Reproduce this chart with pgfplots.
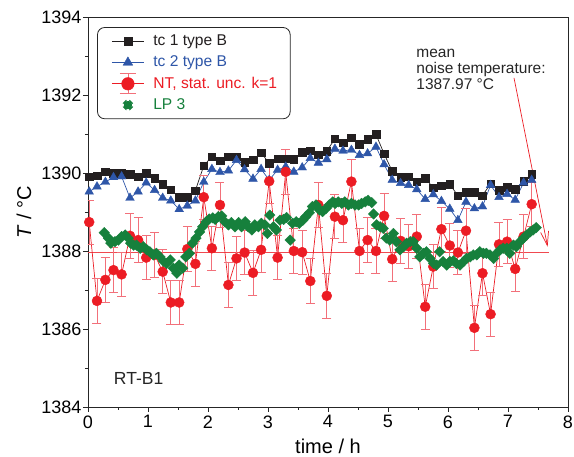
\documentclass[border=0pt]{standalone}
\usepackage{pgfplots}
\pgfplotsset{compat=1.18}
\usepackage{pgfplotstable}
\usepackage{fontspec}
\setmainfont{Liberation Sans}
\usetikzlibrary{arrows.meta}
\definecolor{tcblack}{HTML}{231F20}
\definecolor{tcblue}{HTML}{2E56A8}
\definecolor{ntred}{HTML}{EC1C24}
\definecolor{errred}{HTML}{F2707A}
\definecolor{lpgreen}{HTML}{16803C}
\newcommand{\legfont}{\fontsize{15.6}{18}\selectfont}
\pgfdeclareplotmark{sqdiamond}{%
  \pgfpathmoveto{\pgfqpoint{0pt}{1.4\pgfplotmarksize}}%
  \pgfpathlineto{\pgfqpoint{1.4\pgfplotmarksize}{0pt}}%
  \pgfpathlineto{\pgfqpoint{0pt}{-1.4\pgfplotmarksize}}%
  \pgfpathlineto{\pgfqpoint{-1.4\pgfplotmarksize}{0pt}}%
  \pgfpathclose
  \pgfusepathqfillstroke}
\pgfplotsset{
  stdlegend/.style={legend image code/.code={\path (0pt,0pt) (42pt,0pt);
    \draw[mark repeat=2,mark phase=2,##1] plot coordinates {(6pt,0pt) (22pt,0pt) (38pt,0pt)};}},
  lplegend/.style={legend image code/.code={\path (0pt,0pt) (42pt,0pt);
    \fill[lpgreen] (22pt,6.5pt) -- (28.5pt,0pt) -- (22pt,-6.5pt) -- (15.5pt,0pt) -- cycle;}},
  ntlegend/.style={legend image code/.code={\path (0pt,0pt) (42pt,0pt);
    \draw[errred, line width=0.8pt] (22pt,-10pt) -- (22pt,10pt) (14pt,-10pt) -- (30pt,-10pt) (14pt,10pt) -- (30pt,10pt);
    \draw[mark repeat=2,mark phase=2,##1, mark size=6.3pt] plot coordinates {(6pt,0pt) (22pt,0pt) (38pt,0pt)};}},
}

\pgfplotstableread{
x tcone tctwo nt err
0.02 1389.91 1389.52 1388.74 0.57
0.15 1389.93 1389.65 1386.72 0.57
0.29 1390.03 1389.77 1387.26 0.57
0.425 1390.00 1389.89 1387.51 0.57
0.56 1389.99 1389.91 1387.40 0.57
0.70 1389.97 1389.36 1388.39 0.57
0.835 1389.90 1389.52 1388.28 0.57
0.97 1390.00 1389.75 1387.83 0.57
1.11 1389.86 1389.56 1387.90 0.57
1.245 1389.71 1389.36 1387.47 0.57
1.38 1389.57 1389.29 1386.68 0.57
1.52 1389.38 1389.07 1386.68 0.57
1.655 1389.38 1389.16 1388.05 0.57
1.79 1389.55 1389.29 1387.67 0.57
1.93 1390.19 1389.77 1389.38 0.57
2.065 1390.42 1390.10 1388.07 0.57
2.20 1390.32 1390.02 1389.18 0.57
2.34 1390.42 1390.06 1387.13 0.57
2.475 1390.42 1390.33 1387.81 0.57
2.61 1390.27 1390.09 1387.96 0.57
2.75 1390.34 1389.85 1387.44 0.57
2.885 1390.52 1390.10 1388.03 0.57
3.02 1390.25 1389.82 1389.79 0.57
3.16 1390.37 1390.08 1387.83 0.57
3.295 1390.37 1390.16 1390.03 0.57
3.43 1390.35 1390.03 1388.00 0.57
3.57 1390.53 1390.14 1387.97 0.57
3.705 1390.57 1390.38 1387.23 0.57
3.84 1390.47 1390.26 1389.18 0.57
3.98 1390.56 1390.35 1386.85 0.57
4.115 1390.88 1390.62 1388.88 0.57
4.25 1390.78 1390.57 1388.79 0.57
4.39 1390.91 1390.59 1389.78 0.57
4.525 1390.74 1390.46 1388.00 0.57
4.66 1390.86 1390.50 1388.28 0.57
4.80 1390.99 1390.67 1388.00 0.57
4.935 1390.49 1390.22 1388.90 0.57
5.07 1390.05 1389.82 1387.79 0.57
5.21 1389.89 1389.74 1388.26 0.57
5.345 1389.91 1389.69 1388.12 0.57
5.48 1389.78 1389.58 1388.37 0.57
5.62 1389.87 1389.33 1386.57 0.57
5.755 1389.62 1389.45 1387.60 0.57
5.89 1389.67 1389.28 1388.56 0.57
6.03 1389.71 1389.08 1388.14 0.57
6.165 1389.42 1388.79 1387.96 0.57
6.30 1389.50 1389.26 1388.52 0.57
6.44 1389.50 1389.09 1386.03 0.57
6.575 1389.42 1389.14 1387.43 0.57
6.71 1389.73 1389.69 1386.38 0.57
6.85 1389.56 1389.38 1388.17 0.57
6.985 1389.63 1389.46 1388.24 0.57
7.12 1389.59 1389.31 1387.54 0.57
7.26 1389.79 1389.75 1388.37 0.57
7.395 1389.97 1389.82 1389.20 0.57
}\maindata

\pgfplotstableread{
x y
0.27 1388.47
0.34 1388.33
0.38 1388.20
0.45 1388.24
0.51 1388.28
0.56 1388.37
0.62 1388.41
0.67 1388.33
0.71 1388.20
0.76 1388.15
0.81 1388.15
0.87 1388.07
0.92 1388.11
0.98 1388.03
1.03 1387.98
1.09 1387.90
1.14 1387.94
1.20 1387.85
1.26 1387.73
1.31 1387.68
1.37 1387.77
1.42 1387.56
1.48 1387.43
1.52 1387.64
1.58 1387.56
1.63 1387.85
1.69 1387.94
1.74 1388.20
1.80 1388.33
1.86 1388.49
1.91 1388.62
1.97 1388.75
2.02 1388.82
2.08 1388.85
2.12 1388.81
2.17 1388.88
2.23 1388.90
2.28 1388.75
2.34 1388.67
2.39 1388.73
2.45 1388.62
2.51 1388.73
2.56 1388.62
2.62 1388.75
2.67 1388.62
2.73 1388.54
2.78 1388.67
2.84 1388.62
2.89 1388.71
2.95 1388.67
2.99 1388.45
3.03 1388.92
3.09 1388.62
3.14 1388.54
3.20 1388.79
3.26 1388.81
3.31 1388.86
3.37 1388.28
3.41 1388.71
3.47 1388.75
3.52 1388.71
3.58 1388.79
3.63 1388.88
3.69 1388.98
3.74 1389.14
3.80 1389.18
3.86 1389.05
3.91 1389.01
3.97 1389.09
4.02 1389.18
4.08 1389.26
4.12 1389.22
4.17 1389.26
4.23 1389.22
4.28 1389.26
4.34 1389.18
4.39 1389.22
4.45 1389.18
4.51 1389.18
4.56 1389.22
4.62 1389.26
4.67 1389.30
4.73 1389.24
4.76 1388.95
4.81 1388.67
4.87 1388.62
4.92 1388.58
4.97 1388.33
5.03 1388.28
5.09 1388.45
5.14 1388.24
5.20 1388.03
5.26 1388.11
5.31 1388.20
5.37 1388.24
5.42 1388.24
5.48 1388.07
5.53 1387.85
5.59 1387.94
5.64 1387.98
5.70 1387.81
5.76 1387.68
5.81 1387.64
5.86 1387.98
5.92 1387.73
5.98 1387.64
6.03 1387.73
6.09 1387.75
6.14 1387.68
6.20 1387.64
6.26 1387.73
6.31 1387.81
6.37 1387.85
6.42 1387.90
6.48 1387.90
6.53 1387.98
6.59 1387.94
6.64 1387.94
6.70 1387.90
6.76 1387.81
6.81 1387.94
6.87 1388.03
6.92 1388.07
6.98 1388.07
7.03 1387.94
7.09 1388.15
7.14 1388.11
7.20 1388.24
7.26 1388.33
7.31 1388.41
7.37 1388.49
7.42 1388.54
7.47 1388.60
}\lpdata

\begin{document}
\begin{tikzpicture}
\begin{axis}[
  scale only axis, width=480pt, height=390pt,
  xmin=0, xmax=8, ymin=1384, ymax=1394,
  xtick={0,1,...,8}, minor xtick={0.5,1.5,...,7.5},
  ytick={1384,1386,...,1394}, minor ytick={1385,1387,...,1393},
  tick align=outside, xtick pos=bottom, ytick pos=left,
  major tick length=5pt, minor tick length=3pt,
  axis line style={draw=black!85, line width=0.8pt},
  every tick/.style={black!85, line width=0.8pt},
  ticklabel style={font=\fontsize{18}{20}\selectfont},
  yticklabel style={inner xsep=1.5pt},
  /pgf/number format/assume math mode=true,
  /pgf/number format/set thousands separator={},
  xlabel={time / h}, ylabel={\textit{T} / °C},
  label style={font=\fontsize{20}{22}\selectfont},
  xlabel style={yshift=-4pt},
  ylabel style={yshift=5pt},
  stdlegend,
  legend cell align=left,
  legend style={at={(0.019,0.974)}, anchor=north west, draw=black!85, line width=0.8pt,
    rounded corners=7pt, fill=white, font=\legfont,
    inner xsep=8pt, inner ysep=3pt, column sep=0pt,
    nodes={text height=12pt, text depth=3.5pt, inner ysep=2.9pt, inner xsep=5pt}},
]
\addplot[ntred!80, line width=0.7pt, forget plot] coordinates {(0,1387.97) (7.68,1387.97)};
\addplot[tcblack, line width=0.7pt, mark=square*, mark size=3.8pt, mark options={solid, line width=0.4pt}]
  table[x=x, y=tcone] {\maindata};
\addlegendentry{\legfont\textcolor{tcblack}{tc 1 type B}}
\addplot[tcblue, line width=0.7pt, mark=triangle*, mark size=5pt, mark options={solid, line width=0.4pt},
  legend image post style={mark size=5.6pt}]
  table[x=x, y=tctwo] {\maindata};
\addlegendentry{\legfont\textcolor{tcblue}{tc 2 type B}}
\addplot[ntred, line width=0.7pt, mark=*, mark size=5pt, mark options={solid, line width=0.4pt},
  ntlegend,
  error bars/.cd, y dir=both, y explicit,
  error bar style={errred, line width=0.8pt},
  error mark options={rotate=90, mark size=4.5pt, errred, line width=0.8pt},
  ]
  table[x=x, y=nt, y error=err] {\maindata};
\addlegendentry{\legfont\textcolor{ntred}{NT, stat. unc. k=1}}
\addplot[lpgreen, only marks, mark=sqdiamond, mark size=3.8pt, mark options={solid, fill=lpgreen, line width=0.3pt},
  lplegend]
  table[x=x, y=y] {\lpdata};
\addlegendentry{\legfont\textcolor{lpgreen}{LP 3}}

\node[anchor=north west, align=left, inner sep=0pt, font=\fontsize{15.5}{16}\selectfont, text=black!85]
  at (axis cs:5.47,1393.18) {mean\\noise temperature:\\1387.97 °C};
\node[anchor=west, inner sep=0pt, font=\fontsize{17.5}{19}\selectfont, text=black!85]
  at (axis cs:0.43,1384.73) {RT-B1};
\draw[ntred, line width=0.7pt, -{Straight Barb[length=14pt, width=8pt, line width=0.7pt]}]
  (axis cs:7.1,1392.44) -- (axis cs:7.66,1388.11);
\end{axis}
\pgfresetboundingbox
\path (-88pt,-50pt) rectangle (486pt,407pt);
\end{tikzpicture}
\end{document}
